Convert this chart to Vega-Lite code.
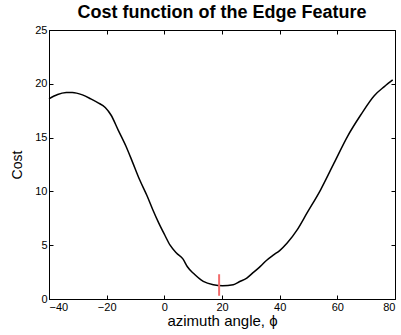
{
  "$schema": "https://vega.github.io/schema/vega-lite/v6.json",
  "width": 346,
  "height": 269,
  "autosize": {"type": "none"},
  "padding": {"left": 49, "top": 30, "right": 6, "bottom": 36},
  "background": "white",
  "title": {"text": "Cost function of the Edge Feature", "font": "Liberation Sans", "fontSize": 18, "fontWeight": "bold", "color": "black", "anchor": "middle", "offset": 2},
  "config": {
    "view": {"stroke": "black", "strokeWidth": 1},
    "axis": {"labelFont": "Liberation Sans", "titleFont": "Liberation Sans", "labelColor": "black", "titleColor": "black", "domainColor": "black", "tickColor": "black", "grid": false, "labelFontSize": 11, "titleFontSize": 14, "titleFontWeight": "normal", "tickSize": -4, "labelPadding": 6}
  },
  "datasets": {
    "curve": [
      {"phi": -40, "cost": 18.6}, {"phi": -37, "cost": 19.0}, {"phi": -34, "cost": 19.18}, {"phi": -31.9, "cost": 19.2},
      {"phi": -28.4, "cost": 18.97}, {"phi": -25.5, "cost": 18.6}, {"phi": -23.1, "cost": 18.25}, {"phi": -20.5, "cost": 17.8},
      {"phi": -18.5, "cost": 17.1}, {"phi": -16, "cost": 15.7}, {"phi": -13.3, "cost": 14.2}, {"phi": -11, "cost": 12.7},
      {"phi": -8.6, "cost": 11.1}, {"phi": -6, "cost": 9.6}, {"phi": -4, "cost": 8.3}, {"phi": -2, "cost": 7.1},
      {"phi": 0.1, "cost": 5.97}, {"phi": 2, "cost": 5.0}, {"phi": 4.2, "cost": 4.27}, {"phi": 6.5, "cost": 3.7},
      {"phi": 8, "cost": 3.0}, {"phi": 10, "cost": 2.41}, {"phi": 13.5, "cost": 1.64}, {"phi": 17, "cost": 1.33},
      {"phi": 20.2, "cost": 1.24}, {"phi": 23.9, "cost": 1.33}, {"phi": 26, "cost": 1.6}, {"phi": 28.6, "cost": 1.95},
      {"phi": 31, "cost": 2.5}, {"phi": 33.3, "cost": 3.03}, {"phi": 35.5, "cost": 3.6}, {"phi": 37.9, "cost": 4.1},
      {"phi": 40, "cost": 4.5}, {"phi": 42.6, "cost": 5.2}, {"phi": 46, "cost": 6.4}, {"phi": 49.5, "cost": 8.0},
      {"phi": 54.2, "cost": 10.15}, {"phi": 58.8, "cost": 12.6}, {"phi": 63.5, "cost": 15.1}, {"phi": 68.1, "cost": 17.1},
      {"phi": 72.8, "cost": 18.9}, {"phi": 76.3, "cost": 19.74}, {"phi": 79.2, "cost": 20.36}
    ],
    "marker": [{"phi": 19, "lo": 0.3, "hi": 2.3}]
  },
  "layer": [
    {
      "data": {"name": "curve"},
      "mark": {"type": "line", "color": "black", "strokeWidth": 1.5, "interpolate": "monotone"},
      "encoding": {
        "x": {"field": "phi", "type": "quantitative", "scale": {"domain": [-40, 80], "nice": false, "zero": false}, "axis": {"title": "azimuth angle, ϕ", "values": [-40, -20, 0, 20, 40, 60, 80], "titlePadding": 1, "titleFontSize": 15}},
        "y": {"field": "cost", "type": "quantitative", "scale": {"domain": [0, 25], "nice": false}, "axis": {"title": "Cost", "values": [0, 5, 10, 15, 20, 25], "titlePadding": 10}}
      }
    },
    {
      "data": {"name": "marker"},
      "mark": {"type": "rule", "color": "#f26b6b", "strokeWidth": 2},
      "encoding": {
        "x": {"field": "phi", "type": "quantitative", "axis": {"orient": "top", "labels": false, "domain": false, "title": null, "values": [-40, -20, 0, 20, 40, 60, 80]}},
        "y": {"field": "lo", "type": "quantitative", "axis": {"orient": "right", "labels": false, "domain": false, "title": null, "values": [0, 5, 10, 15, 20, 25]}},
        "y2": {"field": "hi"}
      }
    }
  ],
  "resolve": {"axis": {"x": "independent", "y": "independent"}}
}
